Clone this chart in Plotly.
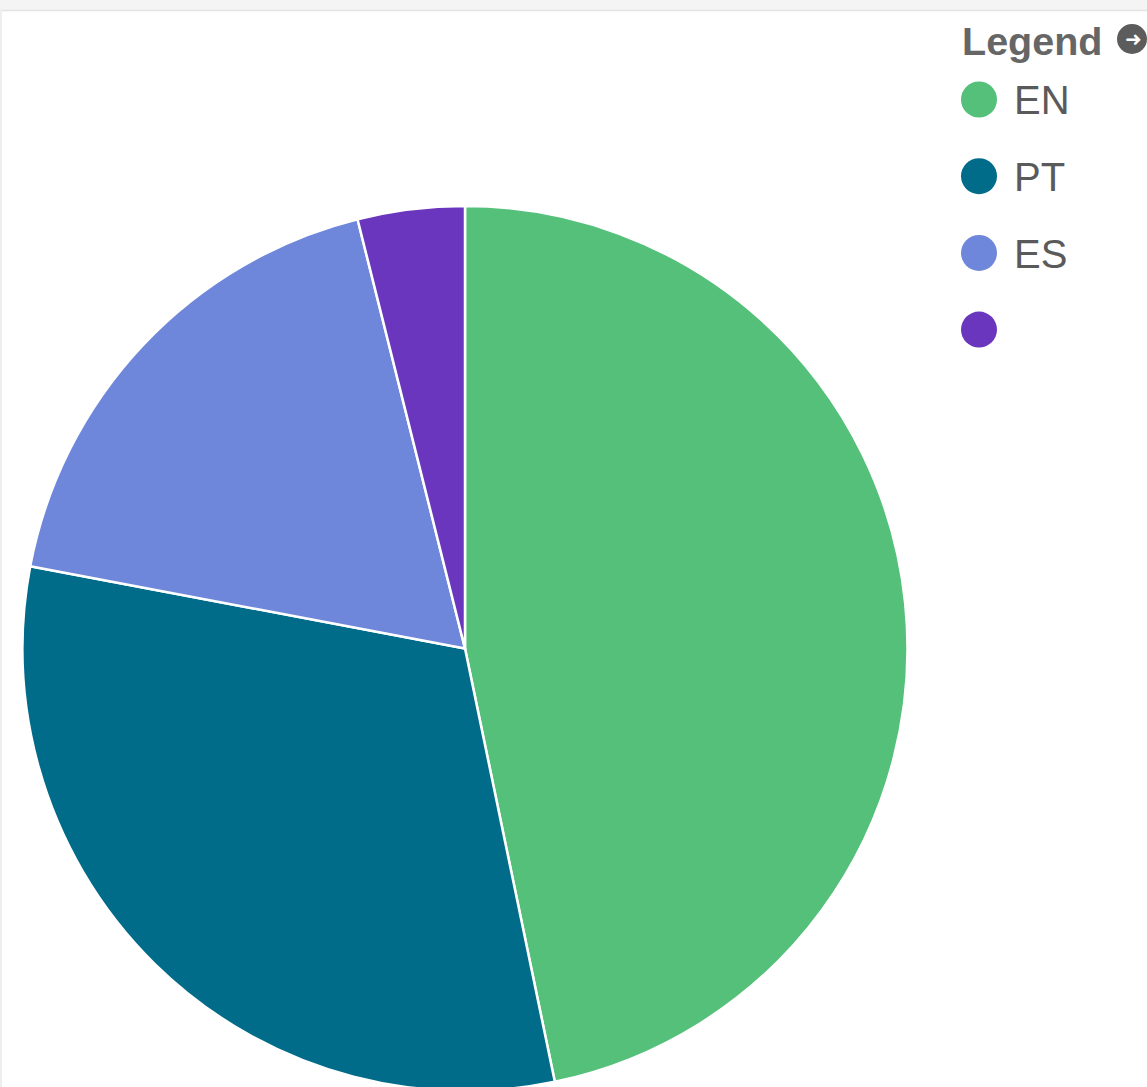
import plotly.graph_objects as go

labels = ["EN", "PT", "ES", ""]
values = [46.7, 31.2, 18.1, 3.9]
colors = ["#54C07A", "#006C89", "#6E87DA", "#6A36BD"]
legend_title = "Legend"

W, H = 1147, 1091  # slightly taller than the window so the pie bottom is clipped like the reference

fig = go.Figure()
fig.add_trace(go.Pie(
    labels=[l if l else " " for l in labels],
    values=values,
    marker=dict(colors=colors, line=dict(color="white", width=2.5)),
    sort=False,
    direction="clockwise",
    rotation=0,
    textinfo="none",
    showlegend=False,
    domain=dict(x=[22 / W, 908 / W], y=[0, 1 - 206 / H]),
))

shapes = [
    dict(type="rect", xref="paper", yref="paper", x0=0, x1=1, y0=1 - 10 / H, y1=1,
         fillcolor="#f4f4f4", line=dict(width=0), layer="below"),
    dict(type="line", xref="paper", yref="paper", x0=0, x1=1, y0=1 - 10.5 / H, y1=1 - 10.5 / H,
         line=dict(color="#e2e2e2", width=1.5)),
    dict(type="line", xref="paper", yref="paper", x0=1 / W, x1=1 / W, y0=0, y1=1 - 10 / H,
         line=dict(color="#eeeeee", width=2)),
    # legend toggle icon
    dict(type="circle", xref="paper", yref="paper",
         x0=(1132 - 15) / W, x1=(1132 + 15) / W,
         y0=1 - (39 + 15) / H, y1=1 - (39 - 15) / H,
         fillcolor="#5c5c5c", line=dict(width=0)),
]
annotations = [
    dict(text="<b>" + legend_title + "</b>", xref="paper", yref="paper",
         x=960 / W, y=1 - 41 / H, xanchor="left", yanchor="middle", showarrow=False,
         font=dict(family="Liberation Sans, Arial", size=39.5, color="#666666")),
    dict(text="<b>➜</b>", xref="paper", yref="paper",
         x=1133 / W, y=1 - 39 / H, xanchor="center", yanchor="middle", showarrow=False,
         font=dict(family="DejaVu Sans", size=20, color="white")),
]
for i, (lab, col) in enumerate(zip(labels, colors)):
    cy = 99.5 + i * 76.7
    r = 18
    shapes.append(dict(type="circle", xref="paper", yref="paper",
                       x0=(979 - r) / W, x1=(979 + r) / W,
                       y0=1 - (cy + r) / H, y1=1 - (cy - r) / H,
                       fillcolor=col, line=dict(width=0)))
    if lab:
        annotations.append(dict(text=lab, xref="paper", yref="paper",
                                x=1012 / W, y=1 - (cy + 1) / H, xanchor="left", yanchor="middle",
                                showarrow=False,
                                font=dict(family="Liberation Sans, Arial", size=40, color="#5a5a5a")))

fig.update_layout(
    width=W, height=H,
    margin=dict(l=0, r=0, t=0, b=0),
    paper_bgcolor="white",
    plot_bgcolor="white",
    shapes=shapes,
    annotations=annotations,
)

fig.write_html("out.html", config={"displayModeBar": False},
               post_script="document.body.style.margin='0';document.body.style.overflow='hidden';")
